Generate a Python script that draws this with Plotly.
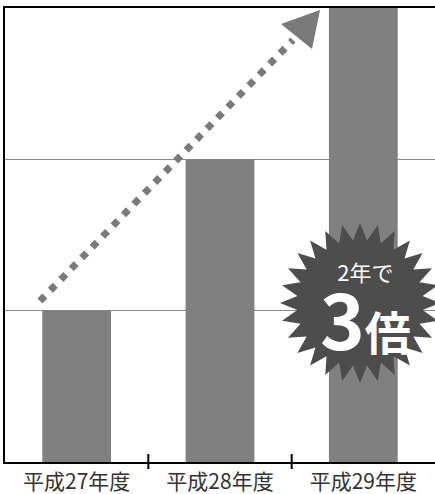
import math
import plotly.graph_objects as go

# Category labels and bar values
categories = ["平成27年度", "平成28年度", "平成29年度"]
values = [1, 2, 3]

W, H = 435, 494
M_L, M_R, M_T, M_B = 5, 0, 8, 32
PW, PH = W - M_L - M_R, H - M_T - M_B

FONT = "Noto Sans CJK JP"
BAR_COLOR = "#808080"
ARROW_COLOR = "#7a7a7a"
BADGE_COLOR = "#4d4d4d"


def px(x):
    """Pixel x -> paper x."""
    return (x - M_L) / PW


def py(y):
    """Pixel y -> paper y."""
    return (H - M_B - y) / PH


fig = go.Figure(
    go.Bar(
        x=categories,
        y=values,
        width=0.48,
        marker=dict(color=BAR_COLOR, line=dict(width=0)),
        hoverinfo="skip",
    )
)

shapes = []

# Tick marks crossing the axis at category boundaries
for i in range(len(categories) - 1):
    shapes.append(dict(
        type="line", xref="x", yref="paper",
        x0=i + 0.5, x1=i + 0.5, y0=8 / PH, y1=-7 / PH,
        line=dict(color="black", width=2),
    ))

# Dotted growth arrow (square dashes on a diagonal read as diamonds)
ax0, ay0, ax1, ay1 = 40, 301, 293, 40
shapes.append(dict(
    type="line", xref="paper", yref="paper",
    x0=px(ax0), y0=py(ay0), x1=px(ax1), y1=py(ay1),
    line=dict(color=ARROW_COLOR, width=7, dash="7px,8px"),
))
head = [(281, 24), (320, 10), (312, 49)]
shapes.append(dict(
    type="path", xref="paper", yref="paper",
    path="M " + " L ".join(f"{px(x)},{py(y)}" for x, y in head) + " Z",
    fillcolor=ARROW_COLOR, line=dict(width=0),
))

# Starburst badge
cx, cy, r_out, r_in, n = 360, 303, 80, 63, 28
pts = []
for k in range(2 * n):
    a = math.pi * k / n - math.pi / 2
    r = r_out if k % 2 == 0 else r_in
    pts.append((cx + r * math.cos(a), cy + r * math.sin(a)))
shapes.append(dict(
    type="path", xref="paper", yref="paper",
    path="M " + " L ".join(f"{px(x):.5f},{py(y):.5f}" for x, y in pts) + " Z",
    fillcolor=BADGE_COLOR, line=dict(width=0),
))

badge_text = (
    "<span style='font-size:22px'>2年で</span><br>"
    "<b><span style='font-size:76px'>3</span>"
    "<span style='font-size:46px'>倍</span></b>"
)
annotations = [
    dict(text=badge_text, x=px(365), y=py(313), xref="paper", yref="paper",
         showarrow=False, xanchor="center", yanchor="middle", align="center",
         font=dict(family=FONT, size=53, color="white")),
]

fig.update_layout(
    width=W, height=H,
    margin=dict(l=M_L, r=M_R, t=M_T, b=M_B, pad=0, autoexpand=False),
    paper_bgcolor="white", plot_bgcolor="white",
    showlegend=False,
    bargap=0.52,
    shapes=shapes,
    annotations=annotations,
    xaxis=dict(
        type="category", range=[-0.5, 2.5], automargin=False,
        showline=True, linecolor="black", linewidth=2, mirror=True,
        ticks="", showgrid=False, zeroline=False,
        tickfont=dict(family=FONT, size=21, color="#333333"),
    ),
    yaxis=dict(
        range=[0, 3], tickvals=[1, 2], automargin=False,
        showline=True, linecolor="black", linewidth=2,
        showgrid=True, gridcolor="#8a8a8a", gridwidth=1,
        zeroline=False, showticklabels=False, ticks="",
    ),
)

fig.write_html("out.html")
